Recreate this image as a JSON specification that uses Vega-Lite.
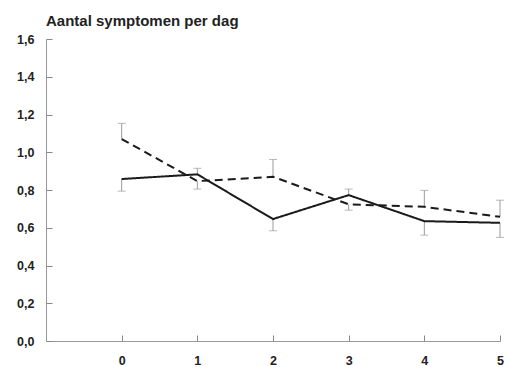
{
  "$schema": "https://vega.github.io/schema/vega-lite/v6.json",
  "width": 454,
  "height": 302,
  "autosize": {"type": "none"},
  "padding": {"left": 46, "top": 39, "right": 7, "bottom": 26},
  "background": "white",
  "title": {
    "text": "Aantal symptomen per dag",
    "anchor": "start",
    "frame": "group",
    "font": "Liberation Sans",
    "fontSize": 15,
    "fontWeight": "bold",
    "color": "#222222",
    "offset": 4
  },
  "config": {
    "view": {"stroke": null},
    "axis": {
      "grid": false,
      "domainColor": "#999999",
      "tickColor": "#888888",
      "labelFont": "Liberation Sans",
      "labelFontWeight": "bold",
      "labelFontSize": 12.5,
      "labelColor": "#222222",
      "labelOverlap": false,
      "title": null
    }
  },
  "data": {
    "values": [
      {"day": 0, "group": "A", "mean": 0.858, "bound": 0.794},
      {"day": 1, "group": "A", "mean": 0.883, "bound": 0.915},
      {"day": 2, "group": "A", "mean": 0.646, "bound": 0.584},
      {"day": 3, "group": "A", "mean": 0.773, "bound": 0.805},
      {"day": 4, "group": "A", "mean": 0.635, "bound": 0.561},
      {"day": 5, "group": "A", "mean": 0.626, "bound": 0.549},
      {"day": 0, "group": "B", "mean": 1.07, "bound": 1.153},
      {"day": 1, "group": "B", "mean": 0.847, "bound": 0.805},
      {"day": 2, "group": "B", "mean": 0.87, "bound": 0.962},
      {"day": 3, "group": "B", "mean": 0.724, "bound": 0.693},
      {"day": 4, "group": "B", "mean": 0.711, "bound": 0.798},
      {"day": 5, "group": "B", "mean": 0.658, "bound": 0.746}
    ]
  },
  "encoding": {
    "x": {
      "field": "day",
      "type": "quantitative",
      "scale": {"domain": [-1, 5], "nice": false, "zero": false},
      "axis": {"values": [0, 1, 2, 3, 4, 5], "format": "d", "tickSize": -6, "labelPadding": 19, "labelFlush": false, "labelOverlap": false, "tickColor": "#888888", "ticks": true, "tickOpacity": 1}
    }
  },
  "layer": [
    {
      "mark": {"type": "rule", "color": "#9a9a9a", "strokeWidth": 1},
      "encoding": {
        "y": {
          "field": "mean",
          "type": "quantitative",
          "scale": {"domain": [0, 1.6], "nice": false},
          "axis": {
            "values": [0, 0.2, 0.4, 0.6, 0.8, 1.0, 1.2, 1.4, 1.6],
            "labelExpr": "replace(format(datum.value, '.1f'), '.', ',')",
            "tickSize": -6,
            "labelPadding": 18,
            "labelOverlap": false,
            "ticks": true,
            "tickColor": "#888888",
            "tickOpacity": 1
          }
        },
        "y2": {"field": "bound"}
      }
    },
    {
      "mark": {"type": "tick", "orient": "horizontal", "color": "#9a9a9a", "size": 8, "thickness": 1},
      "encoding": {
        "y": {"field": "bound", "type": "quantitative", "axis": {"values": [0, 0.2, 0.4, 0.6, 0.8, 1.0, 1.2, 1.4, 1.6], "labelExpr": "replace(format(datum.value, '.1f'), '.', ',')", "tickSize": -6, "labelPadding": 18, "labelOverlap": false, "ticks": true, "tickColor": "#888888", "tickOpacity": 1}}
      }
    },
    {
      "mark": {"type": "line", "color": "#1a1a1a", "strokeWidth": 2},
      "encoding": {
        "y": {"field": "mean", "type": "quantitative", "axis": {"values": [0, 0.2, 0.4, 0.6, 0.8, 1.0, 1.2, 1.4, 1.6], "labelExpr": "replace(format(datum.value, '.1f'), '.', ',')", "tickSize": -6, "labelPadding": 18, "labelOverlap": false, "ticks": true, "tickColor": "#888888", "tickOpacity": 1}},
        "strokeDash": {
          "field": "group",
          "type": "nominal",
          "scale": {"domain": ["A", "B"], "range": [[1, 0], [8, 5]]},
          "legend": null
        }
      }
    }
  ]
}
